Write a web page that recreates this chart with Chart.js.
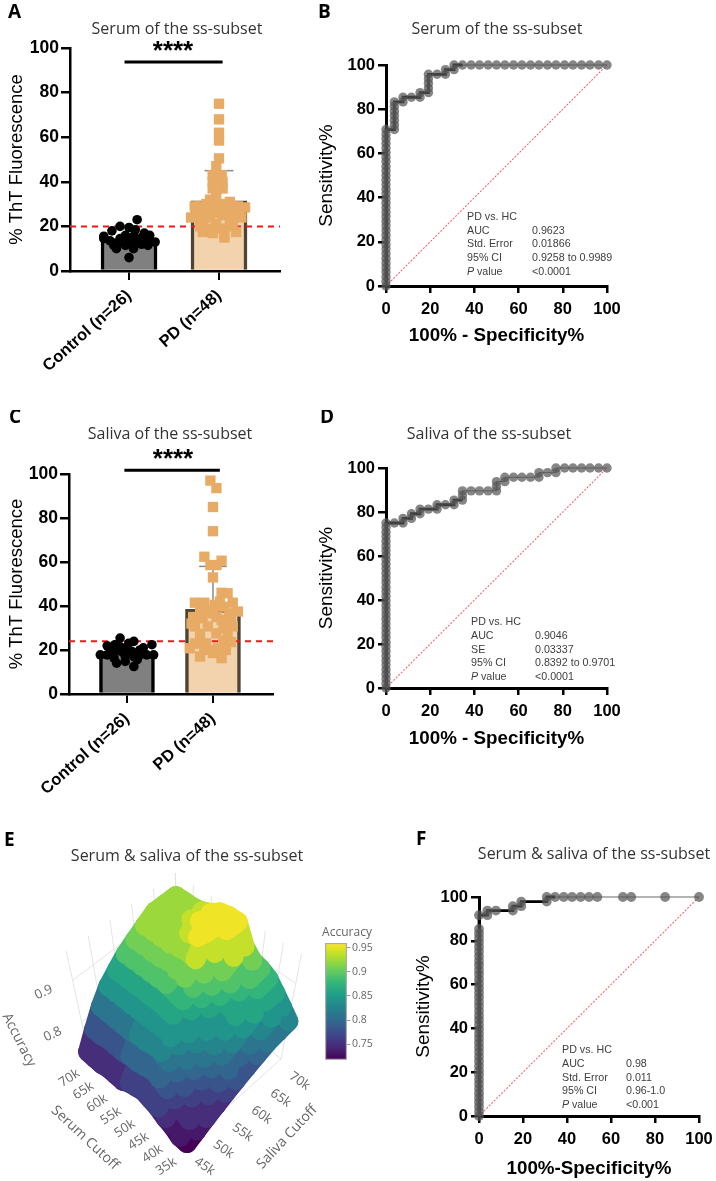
<!DOCTYPE html>
<html>
<head>
<meta charset="utf-8">
<title>ss-subset ThT fluorescence and ROC panels</title>
<script src="https://cdn.jsdelivr.net/npm/chart.js@4/dist/chart.umd.min.js"></script>
<style>
    html, body { margin: 0; padding: 0; background: #fff; overflow: hidden; }
    #page { position: relative; width: 716px; height: 1181px; }
    canvas { position: absolute; }
</style>
</head>
<body>
<div id="page">
    <canvas id="panelA" width="300" height="400" style="left:0;top:0"></canvas>
    <canvas id="panelB" width="320" height="350" style="left:310px;top:0"></canvas>
    <canvas id="panelC" width="300" height="400" style="left:0;top:410px"></canvas>
    <canvas id="panelD" width="320" height="350" style="left:310px;top:410px"></canvas>
    <canvas id="panelE" width="400" height="361" style="left:0;top:820px"></canvas>
    <canvas id="panelEbar" width="60" height="145" style="left:320px;top:925px"></canvas>
    <canvas id="panelF" width="316" height="361" style="left:400px;top:820px"></canvas>
</div>
<script>
// group labels
const groups = ['Control (n=26)', 'PD (n=48)'];

// panel A, serum
const serumMeans = [14.5, 31.5];
const serumSdTop = [18, 45];
const serumCutoffLine = 20;
const serumControl = [23, 20, 19.5, 18.5, 18, 15.6, 16, 13.5, 14.5, 16, 15.6, 15, 10, 11.5, 10, 6, 13, 11.5, 13, 14, 14.5, 12.5, 13, 11.5, 17, 12];
const serumControlX = [0.09, -0.1, 0, 0.07, -0.19, -0.28, 0.23, -0.21, -0.1, -0.04, 0.05, 0.14, -0.14, -0.04, 0.05, 0, 0.29, 0.21, 0.12, -0.02, -0.28, -0.12, 0.03, -0.17, 0.17, 0.14];
const serumPd = [75, 68, 62, 58.5, 50.5, 47, 43, 43, 40, 40, 37, 37, 33, 32, 31, 29, 28, 29, 29, 28.5, 26, 24, 25, 26, 24, 22, 21, 23, 24, 20, 19, 19, 20, 17.5, 17, 16, 17.5, 15, 26, 30, 29, 29, 26, 26, 29, 30, 24, 23];
const serumPdX = [0, 0, 0, 0, 0, -0.03, -0.07, 0.03, -0.07, 0.04, -0.07, 0.04, -0.03, -0.1, 0.12, -0.21, -0.07, 0.08, 0.21, 0.29, -0.25, -0.1, 0.04, 0.19, -0.31, -0.18, -0.03, 0.12, 0.25, -0.21, -0.09, 0.04, 0.15, -0.18, -0.07, 0.06, 0.19, 0.06, -0.14, 0.01, -0.27, 0.15, -0.03, 0.12, 0.01, -0.14, -0.21, 0.15];

// panel C, saliva
const salivaMeans = [19, 38.5];
const salivaSdTop = [23, 58];
const salivaCutoffLine = 24;
const salivaControl = [25.4, 23.9, 22.4, 21.9, 22.4, 20.8, 17.8, 17.8, 19.3, 19.3, 19.3, 17.8, 17.8, 17.8, 14, 12.5, 14.8, 15.6, 20, 23, 21, 21.5, 16.3, 17, 17, 20];
const salivaControlX = [-0.08, 0.08, 0.29, -0.23, -0.14, 0, -0.31, -0.23, -0.14, -0.06, 0.06, 0.15, 0.23, 0.31, -0.12, 0.08, -0.02, 0.12, -0.19, 0.02, 0.19, -0.08, -0.15, 0.08, -0.02, 0.15];
const salivaPd = [97, 93.6, 85, 74, 62.4, 60.6, 58.6, 58.6, 53, 46, 45.8, 41.5, 41.5, 42, 41.5, 40.5, 39.7, 38, 38, 37.5, 36.7, 35, 34.4, 35, 33.7, 30.7, 30.7, 30, 30.7, 27.3, 27.6, 27.3, 23.6, 20.8, 23, 20, 20.8, 20, 17, 18.6, 16.3, 20.8, 23, 24, 23, 36.7, 32, 33.7];
const salivaPdX = [-0.03, 0.04, 0, 0, -0.1, 0.1, -0.03, 0.04, 0, 0.1, 0.17, -0.21, -0.1, 0.08, 0.23, 0.02, 0.12, -0.15, -0.06, 0.29, 0.19, -0.23, -0.12, 0.04, 0.21, -0.21, -0.06, 0.12, 0.23, -0.15, 0.04, 0.17, 0.21, -0.27, -0.15, -0.04, 0.06, 0.15, -0.15, 0, 0.1, -0.1, -0.21, 0.12, -0.08, 0, -0.25, 0.1];

// ROC curves
const rocBX = [0, 0, 0, 0, 0, 0, 0, 0, 0, 0, 0, 0, 0, 0, 0, 0, 0, 0, 0, 0, 0, 0, 0, 0, 0, 0, 0, 0, 0, 0, 0, 0, 0, 0, 0, 3.8, 3.8, 3.8, 3.8, 3.8, 3.8, 3.8, 7.7, 7.7, 11.5, 15.4, 15.4, 19.2, 19.2, 19.2, 19.2, 19.2, 23.1, 26.9, 26.9, 30.8, 30.8, 34.6, 38.5, 42.3, 46.2, 50, 53.8, 57.7, 61.5, 65.4, 69.2, 73.1, 76.9, 80.8, 84.6, 88.5, 92.3, 96.2, 100];
const rocBY = [0, 2.1, 4.2, 6.3, 8.3, 10.4, 12.5, 14.6, 16.7, 18.8, 20.8, 22.9, 25, 27.1, 29.2, 31.3, 33.3, 35.4, 37.5, 39.6, 41.7, 43.8, 45.8, 47.9, 50, 52.1, 54.2, 56.3, 58.3, 60.4, 62.5, 64.6, 66.7, 68.8, 70.8, 70.8, 72.9, 75, 77.1, 79.2, 81.3, 83.3, 83.3, 85.4, 85.4, 85.4, 87.5, 87.5, 89.6, 91.7, 93.8, 95.8, 95.8, 95.8, 97.9, 97.9, 100, 100, 100, 100, 100, 100, 100, 100, 100, 100, 100, 100, 100, 100, 100, 100, 100, 100, 100];
const rocDX = [0, 0, 0, 0, 0, 0, 0, 0, 0, 0, 0, 0, 0, 0, 0, 0, 0, 0, 0, 0, 0, 0, 0, 0, 0, 0, 0, 0, 0, 0, 0, 0, 0, 0, 0, 0, 0, 3.8, 7.7, 7.7, 11.5, 11.5, 15.4, 15.4, 19.2, 23.1, 23.1, 26.9, 30.8, 30.8, 34.6, 34.6, 34.6, 38.5, 42.3, 46.2, 50, 50, 50, 53.8, 53.8, 57.7, 61.5, 65.4, 69.2, 69.2, 73.1, 76.9, 76.9, 80.8, 84.6, 88.5, 92.3, 96.2, 100];
const rocDY = [0, 2.1, 4.2, 6.3, 8.3, 10.4, 12.5, 14.6, 16.7, 18.8, 20.8, 22.9, 25, 27.1, 29.2, 31.3, 33.3, 35.4, 37.5, 39.6, 41.7, 43.8, 45.8, 47.9, 50, 52.1, 54.2, 56.3, 58.3, 60.4, 62.5, 64.6, 66.7, 68.8, 70.8, 72.9, 75, 75, 75, 77.1, 77.1, 79.2, 79.2, 81.3, 81.3, 81.3, 83.3, 83.3, 83.3, 85.4, 85.4, 87.5, 89.6, 89.6, 89.6, 89.6, 89.6, 91.7, 93.8, 93.8, 95.8, 95.8, 95.8, 95.8, 95.8, 97.9, 97.9, 97.9, 100, 100, 100, 100, 100, 100, 100];
const rocFX = [0, 0, 0, 0, 0, 0, 0, 0, 0, 0, 0, 0, 0, 0, 0, 0, 0, 0, 0, 0, 0, 0, 0, 0, 0, 0, 0, 0, 0, 0, 0, 0, 0, 0, 0, 0, 0, 0, 0, 0, 0, 0, 0, 3.8, 3.8, 7.7, 15.4, 15.4, 19.2, 19.2, 30.8, 30.8, 34.6, 38.5, 42.3, 46.2, 50, 53.8, 65.4, 69.2, 84.6, 100];
const rocFY = [0, 2.1, 4.2, 6.3, 8.3, 10.4, 12.5, 14.6, 16.7, 18.8, 20.8, 22.9, 25, 27.1, 29.2, 31.3, 33.3, 35.4, 37.5, 39.6, 41.7, 43.8, 45.8, 47.9, 50, 52.1, 54.2, 56.3, 58.3, 60.4, 62.5, 64.6, 66.7, 68.8, 70.8, 72.9, 75, 77.1, 79.2, 81.3, 83.3, 85.4, 91.7, 91.7, 93.8, 93.8, 93.8, 95.8, 95.8, 97.9, 97.9, 100, 100, 100, 100, 100, 100, 100, 100, 100, 100, 100];
const rocThickUntil = 31; // the curve line gets thin after this x

// stats boxes
const statsB = [['PD vs. HC', ''], ['AUC', '0.9623'], ['Std. Error', '0.01866'], ['95% CI', '0.9258 to 0.9989'], ['P value', '<0.0001']];
const statsD = [['PD vs. HC', ''], ['AUC', '0.9046'], ['SE', '0.03337'], ['95% CI', '0.8392 to 0.9701'], ['P value', '<0.0001']];
const statsF = [['PD vs. HC', ''], ['AUC', '0.98'], ['Std. Error', '0.011'], ['95% CI', '0.96-1.0'], ['P value', '<0.001']];

// panel E, accuracy over the two cutoffs (rows serum, columns saliva)
const serumCutoffs = [35, 37.5, 40, 42.5, 45, 47.5, 50, 52.5, 55, 57.5, 60, 62.5, 65, 67.5, 70];
const salivaCutoffs = [45, 47.5, 50, 52.5, 55, 57.5, 60, 62.5, 65, 67.5, 70];
const accuracyGrid = [
    [0.72, 0.73, 0.74, 0.75, 0.76, 0.77, 0.78, 0.79, 0.80, 0.805, 0.81],
    [0.72, 0.74, 0.75, 0.76, 0.77, 0.78, 0.79, 0.80, 0.815, 0.825, 0.83],
    [0.73, 0.75, 0.76, 0.78, 0.79, 0.80, 0.81, 0.825, 0.84, 0.85, 0.85],
    [0.735, 0.76, 0.77, 0.79, 0.80, 0.81, 0.825, 0.84, 0.855, 0.865, 0.87],
    [0.745, 0.77, 0.79, 0.80, 0.82, 0.83, 0.84, 0.85, 0.865, 0.875, 0.88],
    [0.75, 0.78, 0.80, 0.82, 0.83, 0.84, 0.85, 0.86, 0.87, 0.88, 0.885],
    [0.755, 0.785, 0.81, 0.825, 0.84, 0.85, 0.86, 0.87, 0.885, 0.90, 0.905],
    [0.75, 0.78, 0.81, 0.83, 0.845, 0.86, 0.87, 0.885, 0.915, 0.95, 0.95],
    [0.745, 0.775, 0.805, 0.83, 0.85, 0.865, 0.88, 0.905, 0.95, 0.95, 0.95],
    [0.735, 0.775, 0.805, 0.83, 0.85, 0.87, 0.885, 0.91, 0.925, 0.945, 0.945],
    [0.735, 0.77, 0.80, 0.83, 0.85, 0.87, 0.89, 0.905, 0.92, 0.93, 0.93],
    [0.735, 0.77, 0.80, 0.83, 0.85, 0.87, 0.885, 0.90, 0.915, 0.92, 0.92],
    [0.73, 0.77, 0.80, 0.83, 0.85, 0.87, 0.885, 0.90, 0.915, 0.915, 0.915],
    [0.73, 0.765, 0.80, 0.83, 0.85, 0.87, 0.885, 0.90, 0.915, 0.915, 0.915],
    [0.73, 0.765, 0.80, 0.83, 0.85, 0.87, 0.885, 0.90, 0.915, 0.915, 0.915]
];
const serumTicks = [35, 40, 45, 50, 55, 60, 65, 70];
const salivaTicks = [45, 50, 55, 60, 65, 70];
const accuracyTicks = [0.8, 0.9];
const colorbarTicks = [0.75, 0.8, 0.85, 0.9, 0.95];
const viridis = ['#440154', '#482878', '#3e4989', '#31688e', '#26828e', '#1f9e89', '#35b779', '#6ece58', '#b5de2b', '#fde725'];
const accMin = 0.72;
const accMax = 0.95;
const accBand = 0.015; // the surface shows flat colour bands of this height

const SANS = '"Liberation Sans", Arial, sans-serif';
const TITLE_FONT = '16px "Open Sans", sans-serif';
const LETTER_FONT = 'bold 19px "Open Sans", sans-serif';

// draws free text (titles, panel letters, stats) in canvas coordinates
function textPlugin(items) {
    return {
        id: 'panelText',
        afterDraw(chart) {
            const ctx = chart.ctx;
            items.forEach(item => {
                ctx.save();
                ctx.translate(item.x, item.y);
                if (item.rot) ctx.rotate(item.rot * Math.PI / 180);
                ctx.font = item.font;
                ctx.fillStyle = item.color || '#000';
                ctx.textAlign = item.align || 'left';
                ctx.textBaseline = item.base || 'alphabetic';
                ctx.fillText(item.text, 0, 0);
                ctx.restore();
            });
        }
    };
}

function statItems(rows, x1, x2, ys) {
    const font = '10.7px ' + SANS;
    const out = [];
    rows.forEach((row, i) => {
        if (row[0] === 'P value') {
            out.push({text: 'P', x: x1, y: ys[i], font: 'italic ' + font, color: '#404040', base: 'middle'});
            out.push({text: 'value', x: x1 + 10, y: ys[i], font: font, color: '#404040', base: 'middle'});
        } else {
            out.push({text: row[0], x: x1, y: ys[i], font: font, color: '#404040', base: 'middle'});
        }
        if (row[1]) out.push({text: row[1], x: x2, y: ys[i], font: font, color: '#404040', base: 'middle'});
    });
    return out;
}

function titleAndLetter(title, tx, ty, letter, lx, ly) {
    return [
        {text: title, x: tx, y: ty, font: TITLE_FONT, color: '#333', align: 'center', base: 'middle'},
        {text: letter, x: lx, y: ly, font: LETTER_FONT, color: '#000'}
    ];
}

function pairs(xs, ys) {
    return xs.map((x, i) => ({x: x, y: ys[i]}));
}

function makeBarPanel(id, opt) {
    const xMin = 1 - opt.leftGap;
    const xMax = 2 + opt.rightGap;
    new Chart(document.getElementById(id), {
        type: 'bar',
        data: {
            datasets: [
                {
                    type: 'scatter', order: 1, clip: false, showLine: true,
                    data: [{x: opt.sigX[0], y: opt.sigY}, {x: opt.sigX[1], y: opt.sigY}],
                    borderColor: '#000', borderWidth: 3, pointRadius: 0
                },
                {
                    type: 'scatter', order: 2, clip: false,
                    data: pairs(opt.controlX.map(d => 1 + d), opt.control),
                    pointStyle: 'circle', pointRadius: 4.8, backgroundColor: '#000', borderWidth: 0
                },
                {
                    type: 'scatter', order: 2, clip: false,
                    data: pairs(opt.pdX.map(d => 2 + d), opt.pd),
                    pointStyle: 'rect', pointRadius: 7.3, backgroundColor: '#E8AB66', borderWidth: 0
                },
                {
                    type: 'scatter', order: 3, showLine: true,
                    data: [{x: xMin, y: opt.cutoff}, {x: xMax, y: opt.cutoff}],
                    borderColor: '#f01818', borderWidth: 2, borderDash: [6, 5], pointRadius: 0
                },
                {
                    type: 'scatter', order: 4, showLine: true,
                    data: [{x: 2, y: opt.means[1]}, {x: 2, y: opt.sdTop[1]}],
                    borderColor: '#8a8a8a', borderWidth: 1.5, pointRadius: 0
                },
                {
                    type: 'scatter', order: 4, showLine: true,
                    data: [{x: 2 - opt.cap, y: opt.sdTop[1]}, {x: 2 + opt.cap, y: opt.sdTop[1]}],
                    borderColor: '#8a8a8a', borderWidth: 1.5, pointRadius: 0
                },
                {
                    type: 'bar', order: 5,
                    data: pairs([1, 2], opt.means),
                    barThickness: opt.barWidth,
                    backgroundColor: ['#808080', '#F3D3AE'],
                    borderColor: ['#000', '#4f4434'],
                    borderWidth: 3.5, borderSkipped: 'bottom'
                }
            ]
        },
        options: {
            responsive: false,
            animation: false,
            layout: {padding: {left: 0, top: opt.top, right: opt.right, bottom: 0}},
            plugins: {legend: {display: false}, tooltip: {enabled: false}},
            scales: {
                x: {
                    type: 'linear', min: xMin, max: xMax, offset: false,
                    afterBuildTicks: s => { s.ticks = [{value: 1}, {value: 2}]; },
                    afterFit: s => { s.height = opt.bottom; },
                    border: {color: '#000', width: 2.5},
                    grid: {offset: false, drawOnChartArea: false, color: '#000', lineWidth: 2, tickLength: 9},
                    ticks: {
                        autoSkip: false, minRotation: 42, maxRotation: 42, padding: 6,
                        color: '#000', font: {family: SANS, size: 16.5, weight: 'bold'},
                        callback: v => groups[v - 1]
                    }
                },
                y: {
                    min: 0, max: 100,
                    afterFit: s => { s.width = opt.axisLeft; },
                    border: {color: '#000', width: 2.5},
                    grid: {drawOnChartArea: false, color: '#000', lineWidth: 2.5, tickLength: 9},
                    ticks: {stepSize: 20, padding: 2, color: '#000', font: {family: SANS, size: 17.5, weight: 'bold'}},
                    title: {display: true, text: '% ThT Fluorescence', color: '#000', padding: {top: 6, bottom: 0}, font: {family: SANS, size: 18.5}}
                }
            }
        },
        plugins: [textPlugin(opt.items)]
    });
}

function makeRocPanel(id, opt) {
    new Chart(document.getElementById(id), {
        type: 'scatter',
        data: {
            datasets: [
                {
                    showLine: true, clip: false, order: 1,
                    data: pairs(opt.xs, opt.ys),
                    borderColor: '#000', borderWidth: 3,
                    segment: {borderWidth: ctx => ctx.p0.parsed.x < rocThickUntil ? 2.8 : 0.6},
                    pointRadius: opt.radius, pointBorderWidth: 0,
                    pointBackgroundColor: 'rgba(88,88,88,0.72)'
                },
                {
                    showLine: true, clip: false, order: 2,
                    data: [{x: 0, y: 0}, {x: 100, y: 100}],
                    borderColor: '#ef6a74', borderWidth: 1.1, borderDash: [2, 1.5], pointRadius: 0
                }
            ]
        },
        options: {
            responsive: false,
            animation: false,
            layout: {padding: {left: 0, top: opt.top, right: opt.right, bottom: 0}},
            plugins: {legend: {display: false}, tooltip: {enabled: false}},
            scales: {
                x: {
                    type: 'linear', min: 0, max: 100,
                    // keep the plot width fixed, the "100" label may overhang
                    afterFit: s => { s.height = opt.bottom; s.paddingRight = 0; s.paddingLeft = 0; },
                    border: {color: '#000', width: 3},
                    grid: {drawOnChartArea: false, color: '#000', lineWidth: 2.5, tickLength: 7},
                    ticks: {stepSize: 20, padding: 7, maxRotation: 0, color: '#000', font: {family: SANS, size: 16.5, weight: 'bold'}},
                    title: {display: true, text: opt.xTitle, color: '#000', padding: {top: 0, bottom: opt.xTitlePad}, font: {family: SANS, size: 18.8, weight: 'bold'}}
                },
                y: {
                    min: 0, max: 100,
                    afterFit: s => { s.width = opt.axisLeft; },
                    border: {color: '#000', width: 3},
                    grid: {drawOnChartArea: false, color: '#000', lineWidth: 2.5, tickLength: 8},
                    ticks: {stepSize: 20, padding: 3, color: '#000', font: {family: SANS, size: 16.5, weight: 'bold'}},
                    title: {display: true, text: 'Sensitivity%', color: '#000', padding: {top: opt.yTitlePad, bottom: 0}, font: {family: SANS, size: 19}}
                }
            }
        },
        plugins: [textPlugin(opt.items)]
    });
}

makeBarPanel('panelA', {
    control: serumControl, controlX: serumControlX, pd: serumPd, pdX: serumPdX,
    means: serumMeans, sdTop: serumSdTop, cutoff: serumCutoffLine,
    sigX: [0.95, 2.04], sigY: 93.7, cap: 0.16,
    leftGap: 0.656, rightGap: 0.678, barWidth: 56,
    top: 48, right: 20, bottom: 129, axisLeft: 70,
    items: titleAndLetter('Serum of the ss-subset', 177, 29, 'A', 8, 18).concat([
        {text: '****', x: 173, y: 52, font: 'bold 26px ' + SANS, color: '#000', align: 'center', base: 'middle'}
    ])
});

makeBarPanel('panelC', {
    control: salivaControl, controlX: salivaControlX, pd: salivaPd, pdX: salivaPdX,
    means: salivaMeans, sdTop: salivaSdTop, cutoff: salivaCutoffLine,
    sigX: [0.97, 2.08], sigY: 101.7, cap: 0.16,
    leftGap: 0.674, rightGap: 0.698, barWidth: 55,
    top: 64, right: 27, bottom: 116, axisLeft: 69,
    items: titleAndLetter('Saliva of the ss-subset', 170, 24, 'C', 9, 13).concat([
        {text: '****', x: 173, y: 50, font: 'bold 26px ' + SANS, color: '#000', align: 'center', base: 'middle'}
    ])
});

makeRocPanel('panelB', {
    xs: rocBX, ys: rocBY, radius: 4.7,
    top: 65, right: 23, bottom: 64, axisLeft: 76,
    xTitle: '100% - Specificity%', xTitlePad: 3, yTitlePad: 5,
    items: titleAndLetter('Serum of the ss-subset', 187, 29, 'B', 8, 18)
        .concat(statItems(statsB, 157, 222, [217, 231, 244, 258, 272]))
});

makeRocPanel('panelD', {
    xs: rocDX, ys: rocDY, radius: 4.7,
    top: 58, right: 23, bottom: 72, axisLeft: 76,
    xTitle: '100% - Specificity%', xTitlePad: 10, yTitlePad: 5,
    items: titleAndLetter('Saliva of the ss-subset', 179, 24, 'D', 10, 13)
        .concat(statItems(statsD, 161, 225, [212, 226, 240, 253, 267]))
});

makeRocPanel('panelF', {
    xs: rocFX, ys: rocFY, radius: 4.9,
    top: 77, right: 17, bottom: 65, axisLeft: 79,
    xTitle: '100%-Specificity%', xTitlePad: 1, yTitlePad: 12,
    items: titleAndLetter('Serum & saliva of the ss-subset', 194, 34, 'F', 16, 25)
        .concat(statItems(statsF, 162, 226, [230, 244, 258, 271, 285]))
});

// maps a value to the viridis ramp
function viridisColor(v) {
    const t = Math.min(1, Math.max(0, (v - accMin) / (accMax - accMin))) * (viridis.length - 1);
    const i = Math.min(viridis.length - 2, Math.floor(t));
    const f = t - i;
    const a = viridis[i], b = viridis[i + 1];
    const mix = p => {
        const ca = parseInt(a.substr(p, 2), 16), cb = parseInt(b.substr(p, 2), 16);
        return Math.round(ca + (cb - ca) * f);
    };
    return `rgb(${mix(1)},${mix(3)},${mix(5)})`;
}

// 3D view of panel E: cutoffs as 0-1 fractions plus accuracy to the plane of the chart
function project(s, v, z) {
    const bx = 187 - 98 * s + 94 * v - 5 * s * v;
    const by = 1143 - 820 - 87 * s - 84 * v + 6 * s * v;
    const dz = z - accMin;
    return {x: 190 + (bx - 190) * (1 + 0.9 * dz), y: by - 420 * dz};
}
const serumFrac = c => (c - 35) / 35;
const salivaFrac = c => (c - 45) / 25;

// each grid edge becomes one thick round stroke so the tiles merge into a surface
const surfaceEdges = [];
function addEdge(i1, j1, i2, j2) {
    const z1 = accuracyGrid[i1][j1], z2 = accuracyGrid[i2][j2];
    const a = project(serumFrac(serumCutoffs[i1]), salivaFrac(salivaCutoffs[j1]), z1);
    const b = project(serumFrac(serumCutoffs[i2]), salivaFrac(salivaCutoffs[j2]), z2);
    surfaceEdges.push({z: Math.round((z1 + z2) / 2 / accBand) * accBand, points: [a, b]});
}
serumCutoffs.forEach((serum, i) => {
    salivaCutoffs.forEach((saliva, j) => {
        if (i + 1 < serumCutoffs.length) addEdge(i, j, i + 1, j);
        if (j + 1 < salivaCutoffs.length) addEdge(i, j, i, j + 1);
    });
});
// Chart.js paints the first dataset last, so the highest edges go first
surfaceEdges.sort((a, b) => b.z - a.z);

const TOP_Z = 0.97;
const wallPlugin = {
    id: 'walls',
    beforeDatasetsDraw(chart) {
        const ctx = chart.ctx;
        const sx = chart.scales.x, sy = chart.scales.y;
        const seg = (a, b) => {
            ctx.beginPath();
            ctx.moveTo(sx.getPixelForValue(a.x), sy.getPixelForValue(a.y));
            ctx.lineTo(sx.getPixelForValue(b.x), sy.getPixelForValue(b.y));
            ctx.stroke();
        };
        ctx.save();
        ctx.strokeStyle = '#e4e4e4';
        ctx.lineWidth = 1;
        salivaTicks.forEach(t => seg(project(1, salivaFrac(t), accMin), project(1, salivaFrac(t), TOP_Z)));
        serumTicks.forEach(t => seg(project(serumFrac(t), 1, accMin), project(serumFrac(t), 1, TOP_Z)));
        accuracyTicks.forEach(z => {
            seg(project(1, 0, z), project(1, 1, z));
            seg(project(1, 1, z), project(0, 1, z));
        });
        seg(project(0, 0, accMin), project(0, 1, accMin));
        seg(project(0, 1, accMin), project(1, 1, accMin));
        ctx.restore();
    }
};

const eItems = titleAndLetter('Serum & saliva of the ss-subset', 187, 36, 'E', 4, 26);
const tickFont = '13px "Open Sans", sans-serif';
const axisFont = '14px "Open Sans", sans-serif';
serumTicks.forEach(t => {
    const p = project(serumFrac(t), -0.22, accMin);
    eItems.push({text: t + 'k', x: p.x, y: p.y + 5, font: tickFont, color: '#666', align: 'center', base: 'middle', rot: -33});
});
salivaTicks.forEach(t => {
    const p = project(-0.2, salivaFrac(t), accMin);
    eItems.push({text: t + 'k', x: p.x - 2, y: p.y + 6, font: tickFont, color: '#666', align: 'center', base: 'middle', rot: 35});
});
accuracyTicks.forEach(z => {
    const p = project(1, 0, z);
    eItems.push({text: String(z), x: p.x - 29, y: p.y + 12, font: tickFont, color: '#666', align: 'center', base: 'middle', rot: -25});
});
eItems.push({text: 'Serum Cutoff', x: 85, y: 318, font: axisFont, color: '#666', align: 'center', base: 'middle', rot: 43});
eItems.push({text: 'Saliva Cutoff', x: 287, y: 317, font: axisFont, color: '#666', align: 'center', base: 'middle', rot: -47});
eItems.push({text: 'Accuracy', x: 19, y: 220, font: axisFont, color: '#666', align: 'center', base: 'middle', rot: 63});
eItems.push({text: 'Accuracy', x: 347, y: 113, font: '12px "Open Sans", sans-serif', color: '#666', align: 'center', base: 'middle'});

new Chart(document.getElementById('panelE'), {
    type: 'scatter',
    data: {
        datasets: surfaceEdges.map(edge => ({
            clip: false,
            showLine: true,
            data: edge.points,
            borderColor: viridisColor(edge.z),
            borderWidth: 20,
            borderCapStyle: 'round',
            pointRadius: 0
        }))
    },
    options: {
        responsive: false,
        animation: false,
        layout: {padding: 0},
        plugins: {legend: {display: false}, tooltip: {enabled: false}},
        scales: {
            x: {type: 'linear', display: false, min: 0, max: 400},
            y: {type: 'linear', display: false, min: 0, max: 361, reverse: true}
        }
    },
    plugins: [wallPlugin, textPlugin(eItems)]
});

// colour bar of panel E
new Chart(document.getElementById('panelEbar'), {
    type: 'bar',
    data: {
        labels: ['Accuracy'],
        datasets: [{
            data: [[0.717, 0.96]],
            barPercentage: 1,
            categoryPercentage: 1,
            borderColor: '#aaa',
            borderWidth: 1.5,
            borderSkipped: false,
            backgroundColor: ctx => {
                const area = ctx.chart.chartArea;
                if (!area) return '#888';
                const g = ctx.chart.ctx.createLinearGradient(0, area.bottom, 0, area.top);
                viridis.forEach((c, i) => g.addColorStop(i / (viridis.length - 1), c));
                return g;
            }
        }]
    },
    options: {
        responsive: false,
        animation: false,
        layout: {padding: {left: 5, top: 18, right: 0, bottom: 10}},
        plugins: {legend: {display: false}, tooltip: {enabled: false}},
        scales: {
            x: {display: false},
            y: {
                position: 'right', min: 0.717, max: 0.96,
                afterFit: s => { s.width = 33; },
                afterBuildTicks: s => { s.ticks = colorbarTicks.map(v => ({value: v})); },
                border: {display: false},
                grid: {drawOnChartArea: false, color: '#999', tickLength: 3},
                ticks: {padding: 2, color: '#666', font: {family: '"Open Sans", sans-serif', size: 10.5}, callback: v => String(v)}
            }
        }
    }
});
</script>
</body>
</html>
